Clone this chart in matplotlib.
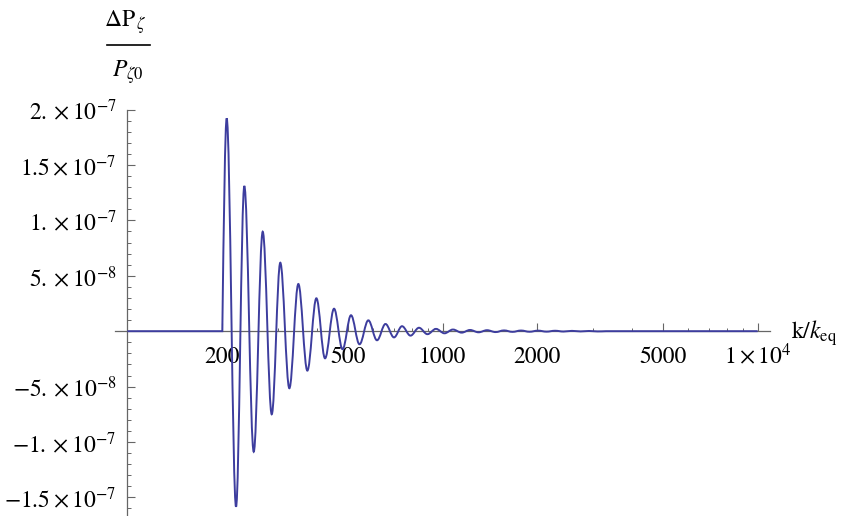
import numpy as np
import matplotlib
matplotlib.use("Agg")
import matplotlib.pyplot as plt
from matplotlib.ticker import FixedLocator, FixedFormatter, MultipleLocator, NullFormatter
from matplotlib.lines import Line2D
from matplotlib.path import Path
from matplotlib.patches import PathPatch

plt.rcParams['mathtext.fontset'] = 'stix'
plt.rcParams['font.family'] = ['STIXGeneral', 'DejaVu Serif']

# extrema of the oscillation (k/k_eq, dP/P in units of 1e-7)
k_ext = [206.5, 221.1, 234.9, 251.6, 268.7, 287.0, 305.5, 326.4, 348.6, 372.3,
         397.7, 423.7, 452.5, 481.5, 512.2, 545.0, 581.3, 619.4, 659.0, 701.3,
         743.6, 791.1, 841.7, 895.5, 952.9, 1014, 1079, 1150, 1222, 1301,
         1384, 1473, 1567, 1667, 1774, 1888, 2009, 2138, 2275, 2420,
         2575, 2740, 2916, 3102]
v_ext = [1.921, -1.584, 1.310, -1.088, 0.898, -0.750, 0.618, -0.515, 0.426, -0.356,
         0.297, -0.245, 0.203, -0.163, 0.144, -0.118, 0.098, -0.082, 0.065, -0.056,
         0.045, -0.040, 0.031, -0.027, 0.021, -0.019, 0.015, -0.013, 0.011, -0.010,
         0.009, -0.008, 0.007, -0.006, 0.006, -0.005, 0.005, -0.004, 0.004, -0.003,
         0.003, -0.002, 0.002, -0.002]
k_start = 100     # left end of the plotted range, curve is 0 here
k_onset = 200     # oscillation switches on
k_settle = 3300   # back to 0
k_end = 10000

x_major = [200, 500, 1000, 2000, 5000, 10000]
x_labels = ['200', '500', '1000', '2000', '5000', r'$1\times10^{4}$']
x_minor = [300, 400, 600, 700, 800, 900, 3000, 4000, 6000, 7000, 8000, 9000]
y_major = [-1.5e-7, -1e-7, -5e-8, 5e-8, 1e-7, 1.5e-7, 2e-7]
y_labels = [r'$-1.5\times10^{-7}$', r'$-1.\times10^{-7}$', r'$-5.\times10^{-8}$',
            r'$5.\times10^{-8}$', r'$1.\times10^{-7}$', r'$1.5\times10^{-7}$',
            r'$2.\times10^{-7}$']

v = [x * 1e-7 for x in v_ext]

# smooth curve through the extrema: cubic pieces with flat tangents at each extremum
verts = [(k_start, 0), (k_onset, 0)]
codes = [Path.MOVETO, Path.LINETO]
r = k_ext[0] / k_onset
verts += [(k_onset * r ** 0.325, 0.511 * v[0]), (k_onset * r ** 0.650, v[0]), (k_ext[0], v[0])]
codes += [Path.CURVE4] * 3
for i in range(1, len(k_ext)):
    ka, kb = k_ext[i - 1], k_ext[i]
    r = kb / ka
    verts += [(ka * r ** 0.364, v[i - 1]), (kb / r ** 0.364, v[i]), (kb, v[i])]
    codes += [Path.CURVE4] * 3
r = k_settle / k_ext[-1]
verts += [(k_ext[-1] * r ** 0.350, v[-1]), (k_ext[-1] * r ** 0.675, 0.511 * v[-1]), (k_settle, 0)]
codes += [Path.CURVE4] * 3
verts += [(k_end, 0)]
codes += [Path.LINETO]

fig = plt.figure(figsize=(8.43, 5.16), dpi=100)
ax = fig.add_axes([115 / 843, 0, 655 / 843, (516 - 109.6) / 516])
ax.set_xscale('log')
ax.set_xlim(91.3, 10943)
ax.set_ylim(-1.668e-7, 2.0e-7)

ax.add_patch(PathPatch(Path(verts, codes), facecolor='none', edgecolor='#3d3d9e',
                       lw=1.4, zorder=3, transform=ax.transData))

for s in ['top', 'right']:
    ax.spines[s].set_visible(False)
ax.spines['left'].set_position(('data', 100))
ax.spines['bottom'].set_position(('data', 0))
for s in ['left', 'bottom']:
    ax.spines[s].set_color('#666666')
    ax.spines[s].set_linewidth(0.9)
ax.patch.set_visible(False)

ax.xaxis.set_major_locator(FixedLocator(x_major))
ax.xaxis.set_major_formatter(FixedFormatter(x_labels))
ax.xaxis.set_minor_locator(FixedLocator(x_minor))
ax.xaxis.set_minor_formatter(NullFormatter())
ax.yaxis.set_major_locator(FixedLocator(y_major))
ax.yaxis.set_major_formatter(FixedFormatter(y_labels))
ax.yaxis.set_minor_locator(MultipleLocator(1e-8))

ax.tick_params(axis='x', which='major', direction='in', length=5.8, width=0.8,
               color='#666666', pad=23, labelsize=17)
ax.tick_params(axis='x', which='minor', direction='in', length=2.2, width=0.7,
               color='#666666')
ax.tick_params(axis='y', which='major', direction='in', length=5.4, width=0.8,
               color='#666666', pad=8, labelsize=17)
ax.tick_params(axis='y', which='minor', direction='in', length=3.2, width=0.7,
               color='#666666')
for t in ax.get_xticklabels():
    t.set_verticalalignment('baseline')

# axis labels, Mathematica style
fig.text(125 / 843, 1 - 22 / 516, r'$\Delta\mathrm{P}_{\,\zeta}$', ha='center', va='center', fontsize=17)
fig.add_artist(Line2D([107 / 843, 150 / 843], [1 - 45 / 516] * 2, color='black', lw=1.2))
fig.text(128 / 843, 1 - 72 / 516, r'$P_{\zeta 0}$', ha='center', va='center', fontsize=17)
fig.text(791 / 843, 1 - 333 / 516, r'$\mathrm{k}/k_{\mathrm{eq}}$', ha='left', va='center', fontsize=17)

fig.savefig('out.png', dpi=100)
